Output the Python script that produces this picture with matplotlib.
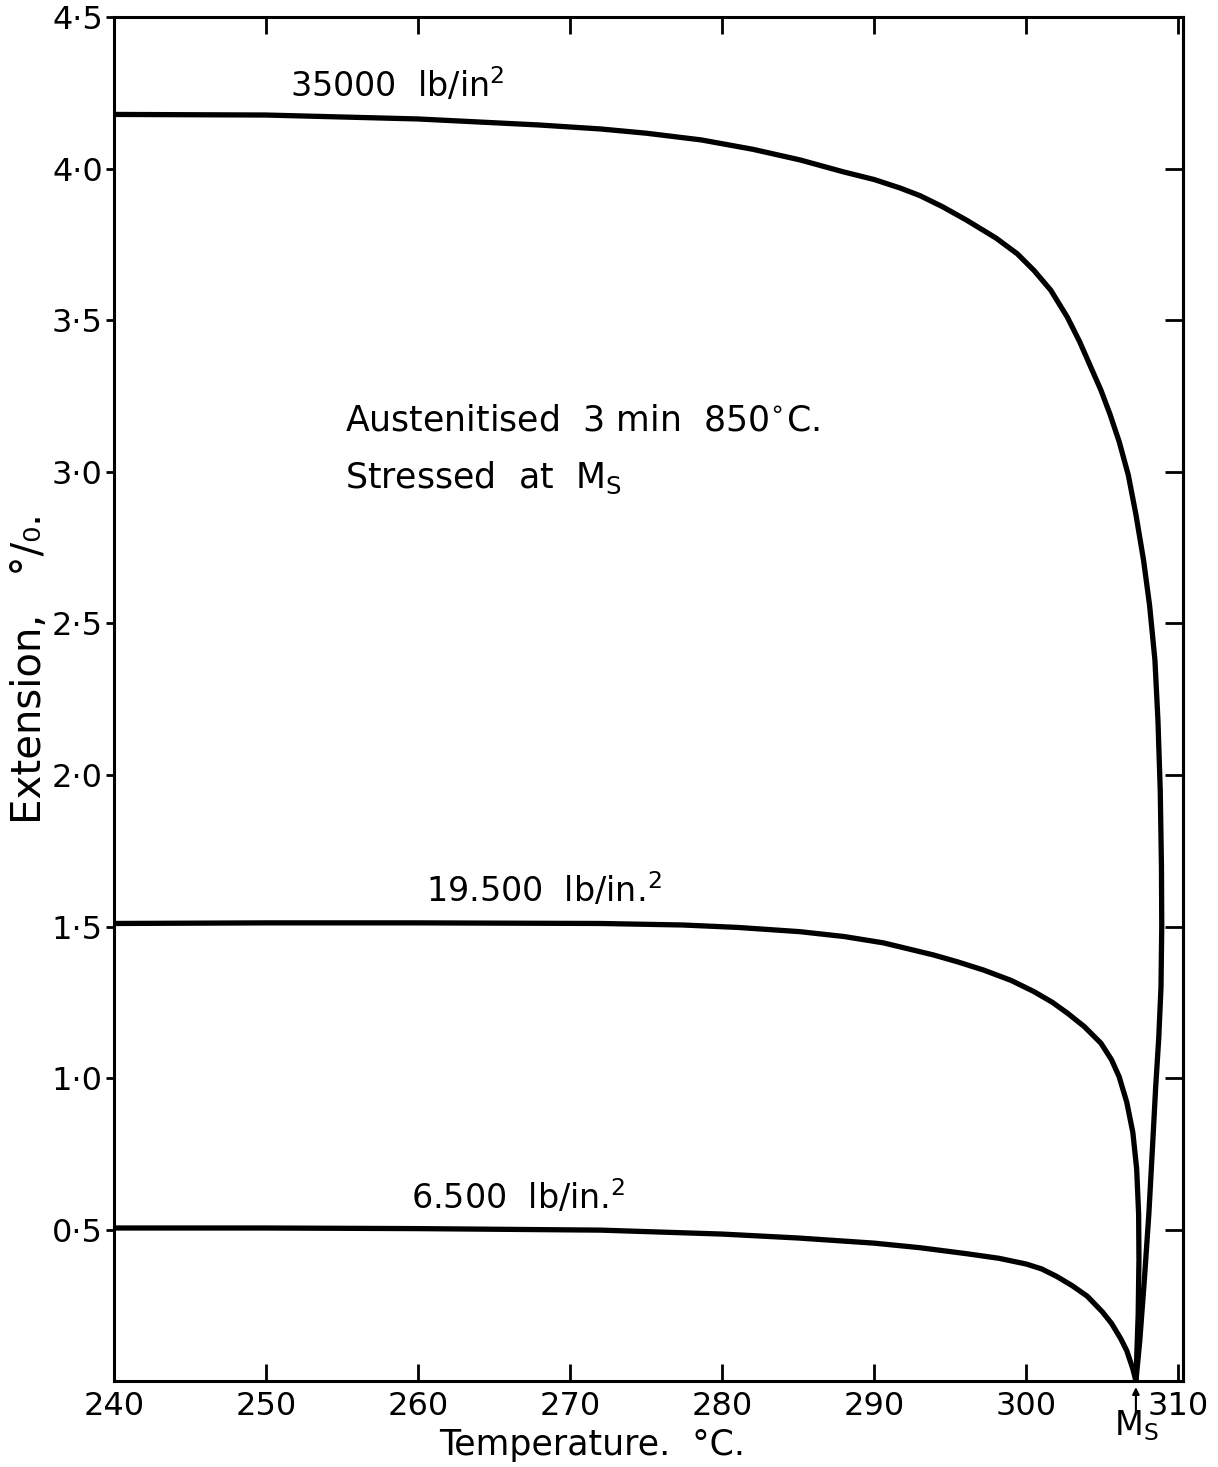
import matplotlib
matplotlib.use("Agg")
import matplotlib.pyplot as plt

plt.rcParams['font.family'] = ['DejaVu Sans']
plt.rcParams['mathtext.default'] = 'regular'

# Temperature (deg C) and extension (%)
t_35000 = [240, 250, 260, 268, 272, 275, 278.6, 282, 285.1, 288, 290, 291.7, 293,
           294.5, 296.1, 298, 299.4, 300.5, 301.6, 302.7, 303.5, 304.2, 304.9, 305.5,
           306.1, 306.7, 307.2, 307.7, 308.1, 308.45, 308.65, 308.8, 308.88,
           308.9, 308.85, 308.7, 308.5, 308.3, 308.05, 307.75, 307.45, 307.2]
e_35000 = [4.18, 4.178, 4.165, 4.145, 4.132, 4.118, 4.096, 4.065, 4.03, 3.99, 3.965, 3.937, 3.912,
           3.875, 3.83, 3.772, 3.72, 3.665, 3.6, 3.51, 3.43, 3.35, 3.27, 3.19,
           3.1, 2.99, 2.86, 2.71, 2.56, 2.38, 2.18, 1.95, 1.7,
           1.5, 1.3, 1.13, 0.97, 0.78, 0.55, 0.33, 0.13, 0.0]

t_19500 = [240, 250, 260, 272, 277.4, 281, 285.1, 288, 290.6, 293.9, 295.5,
           297.2, 299, 300.5, 301.7, 302.7, 303.8, 304.9, 305.6, 306.1, 306.6,
           307.0, 307.25, 307.38, 307.4, 307.35, 307.2]
e_19500 = [1.51, 1.512, 1.512, 1.51, 1.505, 1.497, 1.483, 1.467, 1.446, 1.406, 1.383,
           1.356, 1.322, 1.285, 1.25, 1.214, 1.17, 1.115, 1.06, 1.004, 0.92,
           0.82, 0.70, 0.55, 0.40, 0.22, 0.0]

t_6500 = [240, 250, 260, 272, 280, 285, 290, 293, 296.1, 298.2, 300, 301,
          302, 303, 304, 305, 305.6, 306.2, 306.6, 307.0, 307.2]
e_6500 = [0.505, 0.505, 0.503, 0.498, 0.485, 0.472, 0.455, 0.44, 0.42, 0.405, 0.386, 0.37,
          0.345, 0.315, 0.28, 0.228, 0.19, 0.14, 0.10, 0.04, 0.0]

ms_temp = 307.2

x_ticks = [240, 250, 260, 270, 280, 290, 300, 310]
x_tick_labels = ['240', '250', '260', '270', '280', '290', '300', '310']
y_ticks = [0.5, 1.0, 1.5, 2.0, 2.5, 3.0, 3.5, 4.0, 4.5]
y_tick_labels = ['0·5', '1·0', '1·5', '2·0', '2·5', '3·0', '3·5', '4·0', '4·5']

curve_labels = [
    (251.6, 4.277, '35000  lb/in$^2$'),
    (260.5, 1.62, '19.500  lb/in.$^2$'),
    (259.5, 0.607, '6.500  lb/in.$^2$'),
]

fig = plt.figure(figsize=(12.18, 14.67), dpi=100)
ax = fig.add_axes([0.0936, 0.0586, 0.8777, 0.9295])

for t, e in [(t_35000, e_35000), (t_19500, e_19500), (t_6500, e_6500)]:
    ax.plot(t, e, color='black', lw=3.8, solid_joinstyle='round',
            solid_capstyle='round')

ax.set_xlim(240, 310.3)
ax.set_ylim(0, 4.5)

for sp in ax.spines.values():
    sp.set_linewidth(2.2)

ax.set_xticks(x_ticks)
ax.set_xticklabels(x_tick_labels)
ax.tick_params(axis='x', direction='in', top=True, length=12, width=2,
               labelsize=23, pad=7)
ax.set_yticks(y_ticks)
ax.set_yticklabels(y_tick_labels)
ax.tick_params(axis='y', direction='out', length=6, width=2,
               labelsize=23, pad=2)

sec = ax.secondary_yaxis('right')
sec.set_yticks(y_ticks[:-1])
sec.tick_params(direction='in', length=13, width=2, labelright=False)
sec.spines['right'].set_linewidth(2.2)

for x, y, s in curve_labels:
    ax.text(x, y, s, fontsize=24, ha='left', va='center')

ax.text(255.2, 3.17, 'Austenitised  3 min  850$^{\\circ}$C.', fontsize=25,
        ha='left', va='center')
ax.text(255.2, 2.98, 'Stressed  at  $M_S$', fontsize=25,
        ha='left', va='center')

# Ms marker below the axis
ax.annotate('', xy=(ms_temp, -0.02), xycoords='data',
            xytext=(0, -18), textcoords='offset points',
            arrowprops=dict(arrowstyle='-|>', lw=1.5, color='black',
                            mutation_scale=10, shrinkA=0, shrinkB=0),
            annotation_clip=False)
ax.text(ms_temp, -0.09, '$M_S$', fontsize=24, ha='center', va='top',
        clip_on=False)

fig.text(592 / 1218, 1 - 1445 / 1467, 'Temperature.  °C.', fontsize=25,
         ha='center', va='center')
fig.text(30 / 1218, 1 - 668 / 1467, 'Extension,   °/₀.', fontsize=29,
         ha='center', va='center', rotation=90)

fig.savefig('out.png', dpi=100)
